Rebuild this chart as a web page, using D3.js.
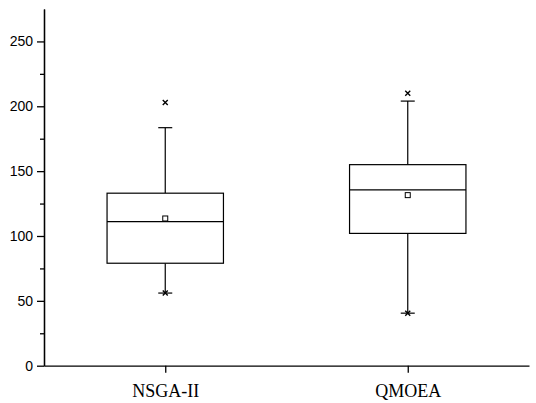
<!DOCTYPE html>
<html>
<head>
<meta charset="utf-8">
<script src="https://cdn.jsdelivr.net/npm/d3@7"></script>
<style>
  body { margin: 0; background: #fff; }
  svg { display: block; }
  .y.axis text { font-family: "Liberation Sans", Arial, sans-serif; font-size: 14px; fill: #000; }
  .x.axis text { font-family: "Liberation Serif", "Times New Roman", serif; font-size: 18px; fill: #000; }
  .axis path, .axis line { stroke: #000; stroke-width: 1.3; }
</style>
</head>
<body>
<script>
// values
var categories = ['NSGA-II', 'QMOEA'];
var q1 = [79, 102];
var median = [111, 135.5];
var q3 = [133, 155];
var whiskerLow = [56, 40.5];
var whiskerHigh = [183.5, 204];
var means = [113.5, 131.5];
var maxPoints = [203, 210];
var minPoints = [56, 40.5];
var yTicks = [0, 50, 100, 150, 200, 250];
var yMinorTicks = [25, 75, 125, 175, 225];

var width = 536, height = 403;
var svg = d3.select('body').append('svg')
            .attr('width', width)
            .attr('height', height);

var y = d3.scaleLinear()
          .domain([0, 275])
          .range([365.7, 9]);
var x = d3.scalePoint()
          .domain(categories)
          .range([44, 529])
          .padding(0.5);

var boxW = x.step() * 0.48;
var capW = 14;

var data = categories.map(function(c, i) {
    return { name: c, q1: q1[i], med: median[i], q3: q3[i], lo: whiskerLow[i], hi: whiskerHigh[i],
             mean: means[i], max: maxPoints[i], min: minPoints[i] };
});

var g = svg.append('g');

var boxes = g.selectAll('.box').data(data).enter().append('g').attr('class', 'box');

// whiskers
boxes.append('line')
     .attr('x1', function(d) { return x(d.name); })
     .attr('x2', function(d) { return x(d.name); })
     .attr('y1', function(d) { return y(d.q3); })
     .attr('y2', function(d) { return y(d.hi); })
     .attr('stroke', '#000').attr('stroke-width', 1.2);
boxes.append('line')
     .attr('x1', function(d) { return x(d.name); })
     .attr('x2', function(d) { return x(d.name); })
     .attr('y1', function(d) { return y(d.q1); })
     .attr('y2', function(d) { return y(d.lo); })
     .attr('stroke', '#000').attr('stroke-width', 1.2);
// caps
boxes.selectAll('.cap').data(function(d) { return [{ c: d.name, v: d.hi }, { c: d.name, v: d.lo }]; })
     .enter().append('line')
     .attr('x1', function(d) { return x(d.c) - capW / 2; })
     .attr('x2', function(d) { return x(d.c) + capW / 2; })
     .attr('y1', function(d) { return y(d.v); })
     .attr('y2', function(d) { return y(d.v); })
     .attr('stroke', '#000').attr('stroke-width', 1.2);

// box
boxes.append('rect')
     .attr('x', function(d) { return x(d.name) - boxW / 2; })
     .attr('y', function(d) { return y(d.q3); })
     .attr('width', boxW)
     .attr('height', function(d) { return y(d.q1) - y(d.q3); })
     .attr('fill', '#fff')
     .attr('stroke', '#000').attr('stroke-width', 1.2);
// median
boxes.append('line')
     .attr('x1', function(d) { return x(d.name) - boxW / 2; })
     .attr('x2', function(d) { return x(d.name) + boxW / 2; })
     .attr('y1', function(d) { return y(d.med); })
     .attr('y2', function(d) { return y(d.med); })
     .attr('stroke', '#000').attr('stroke-width', 1.2);
// mean square
boxes.append('rect')
     .attr('x', function(d) { return x(d.name) - 2.5; })
     .attr('y', function(d) { return y(d.mean) - 2.5; })
     .attr('width', 5).attr('height', 5)
     .attr('fill', '#fff')
     .attr('stroke', '#000').attr('stroke-width', 1);

// max / min crosses
function cross(sel, key) {
    sel.append('path')
       .attr('d', function(d) {
           var cx = x(d.name), cy = y(d[key]), s = 2.5;
           return 'M' + (cx - s) + ',' + (cy - s) + 'L' + (cx + s) + ',' + (cy + s) +
                  'M' + (cx - s) + ',' + (cy + s) + 'L' + (cx + s) + ',' + (cy - s);
       })
       .attr('stroke', '#000').attr('stroke-width', 1.4);
}
cross(boxes, 'max');
cross(boxes, 'min');

// axes
var yAxis = d3.axisLeft(y).tickValues(yTicks).tickSize(7).tickSizeOuter(0).tickPadding(4);
var yMinor = d3.axisLeft(y).tickValues(yMinorTicks).tickSize(4).tickSizeOuter(0).tickFormat('');
var xAxis = d3.axisBottom(x).tickSize(7).tickSizeOuter(0).tickPadding(12);

svg.append('g').attr('class', 'y axis').attr('transform', 'translate(44,0)').call(yMinor);
svg.append('g').attr('class', 'y axis').attr('transform', 'translate(44,0)').call(yAxis);
svg.append('g').attr('class', 'x axis').attr('transform', 'translate(0,' + y(0) + ')').call(xAxis);
</script>
</body>
</html>
